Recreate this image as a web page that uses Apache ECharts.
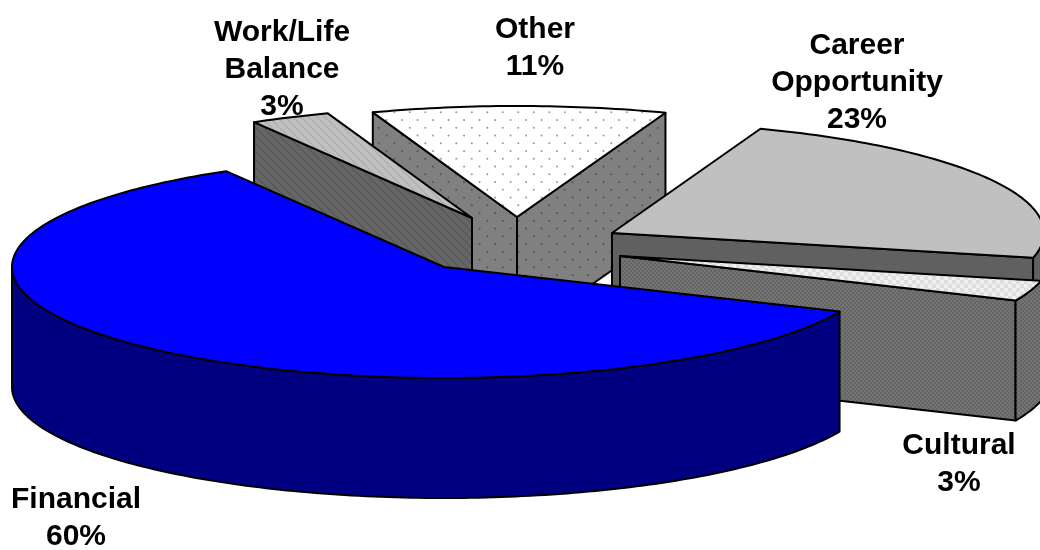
<!DOCTYPE html>
<html>
<head>
<meta charset="utf-8">
<style>html,body{margin:0;padding:0;background:#fff}#c{width:1040px;height:550px}</style>
<script src="https://cdn.jsdelivr.net/npm/echarts@6/dist/echarts.min.js"></script>
</head>
<body>
<div id="c"></div>
<script>
// ---- data, as printed on the chart ----
var categories = ['Financial', 'Work/Life\nBalance', 'Other', 'Career\nOpportunity', 'Cultural'];
var values = [60, 3, 11, 23, 3];

// ---- projection and styling (not data) ----
var START_DEG = 23.7, RX = 432, RY = 111, DEPTH = 120;
var apexes = [[444, 267], [472, 218], [517, 217], [612, 233], [620, 256]];
var labelAnchors = [[76, 518], [282, 70], [535, 48], [857, 83], [959, 464]];
var paintOrder = [2, 1, 3, 4, 0];

function tile(w, h, bg, draw) {
  var c = document.createElement('canvas');
  c.width = w; c.height = h;
  var g = c.getContext('2d');
  g.fillStyle = bg; g.fillRect(0, 0, w, h);
  draw(g);
  return { image: c, repeat: 'repeat' };
}
function dots(bg, ink, radius) {
  return tile(31, 31, bg, function (g) {
    g.fillStyle = ink;
    for (var i = 0; i < 4; i++) {
      var y = 3.8 + i * 7.75, off = (i % 2) ? 7.75 : 0;
      for (var j = 0; j < 2; j++) {
        var x = (6.8 + off + j * 15.5) % 31;
        g.beginPath(); g.arc(x, y, radius, 0, Math.PI * 2); g.fill();
      }
    }
  });
}
function hatch(bg, ink) {
  return tile(8, 8, bg, function (g) {
    g.strokeStyle = ink; g.lineWidth = 1.8;
    for (var k = -8; k <= 8; k += 8) {
      g.beginPath(); g.moveTo(k, 0); g.lineTo(k + 8, 8); g.stroke();
    }
  });
}
function checks(size, a, b) {
  return tile(size * 2, size * 2, a, function (g) {
    g.fillStyle = b;
    g.fillRect(0, 0, size, size); g.fillRect(size, size, size, size);
  });
}
var tops = ['#0000ff', hatch('#c0c0c0', '#b2b2b2'), dots('#ffffff', '#999999', 1), '#c0c0c0', checks(4, '#f0f0f0', '#dedede')];
var walls = ['#000080', hatch('#666666', '#5a5a5a'), dots('#808080', '#585858', 1.1), '#606060', checks(2, '#757575', '#646464')];

var total = values.reduce(function (a, b) { return a + b; }, 0);
var spans = [], cursor = START_DEG;
values.forEach(function (v) {
  var next = cursor + v / total * 360;
  spans.push([cursor, next]);
  cursor = next;
});
function pt(ap, deg, drop) {
  var r = deg * Math.PI / 180;
  return [ap[0] + RX * Math.cos(r), ap[1] + RY * Math.sin(r) + (drop || 0)];
}
function arc(ap, a, b, drop) {
  var n = Math.max(2, Math.ceil(Math.abs(b - a))), out = [];
  for (var i = 0; i <= n; i++) out.push(pt(ap, a + (b - a) * i / n, drop));
  return out;
}
function poly(points, fill) {
  return {
    type: 'polygon',
    shape: { points: points },
    style: { fill: fill, stroke: '#000', lineWidth: 2, lineJoin: 'round' }
  };
}
function cutFace(ap, deg, fill) {
  var e = pt(ap, deg);
  return poly([ap, e, [e[0], e[1] + DEPTH], [ap[0], ap[1] + DEPTH]], fill);
}
function renderSlice(params, api) {
  var i = api.value(0);
  var a = spans[i][0], b = spans[i][1], ap = apexes[i];
  var kids = [];
  // side faces turned towards the viewer
  if (Math.cos(a * Math.PI / 180) < 0) kids.push(cutFace(ap, a, walls[i]));
  if (Math.cos(b * Math.PI / 180) > 0) kids.push(cutFace(ap, b, walls[i]));
  // visible part of the rim: where the ellipse is on its front half
  [[0, 180], [360, 540]].forEach(function (w) {
    var s = Math.max(a, w[0]), e = Math.min(b, w[1]);
    if (e > s) {
      kids.push(poly(arc(ap, s, e, 0).concat(arc(ap, e, s, DEPTH)), walls[i]));
    }
  });
  kids.push(poly([ap].concat(arc(ap, a, b, 0)), tops[i]));
  var pct = Math.round(api.value(1) / total * 100);
  kids.push({
    type: 'text',
    z2: 100,
    style: {
      x: labelAnchors[i][0], y: labelAnchors[i][1],
      text: categories[i] + '\n' + pct + '%',
      fill: '#000', align: 'center', verticalAlign: 'middle',
      font: 'bold 30px "Liberation Sans", Arial, sans-serif',
      lineHeight: 37
    }
  });
  return { type: 'group', children: kids };
}

var chart = echarts.init(document.getElementById('c'), null, { renderer: 'canvas' });
chart.setOption({
  animation: false,
  backgroundColor: '#ffffff',
  series: [{
    type: 'custom',
    coordinateSystem: 'none',
    clip: false,
    encode: { value: 1 },
    data: paintOrder.map(function (i) { return [i, values[i]]; }),
    renderItem: renderSlice
  }]
});
</script>
</body>
</html>
